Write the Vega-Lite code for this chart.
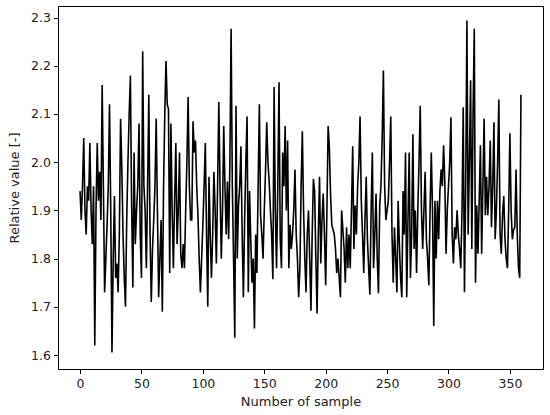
{
  "$schema": "https://vega.github.io/schema/vega-lite/v6.json",
  "autosize": "none",
  "width": 485,
  "height": 363,
  "padding": {"left": 58, "top": 6, "right": 7, "bottom": 46},
  "background": "white",
  "config": {
    "view": {"stroke": "black", "strokeWidth": 1},
    "font": "DejaVu Sans",
    "axis": {"grid": false, "domain": false, "tickColor": "black", "tickSize": 4.5, "labelColor": "#222", "labelFontSize": 12.5, "titleFontSize": 13, "titleFontWeight": "normal", "titleColor": "#222", "labelPadding": 3}
  },
  "data": {"values": [
{"x":0,"y":1.94},{"x":1,"y":1.88},{"x":2,"y":1.95},{"x":3,"y":2.05},{"x":4,"y":1.9},{"x":5,"y":1.85},{"x":6,"y":1.95},{"x":7,"y":1.92},{"x":8,"y":2.04},{"x":9,"y":1.9},
{"x":10,"y":1.83},{"x":11,"y":1.95},{"x":12,"y":1.62},{"x":13,"y":1.9},{"x":14,"y":2.04},{"x":15,"y":1.92},{"x":16,"y":1.98},{"x":17,"y":1.88},{"x":18,"y":2.16},{"x":19,"y":1.95},
{"x":20,"y":1.73},{"x":21,"y":1.8},{"x":22,"y":1.87},{"x":23,"y":1.95},{"x":24,"y":2.12},{"x":25,"y":1.9},{"x":26,"y":1.605},{"x":27,"y":1.8},{"x":28,"y":1.93},{"x":29,"y":1.76},
{"x":30,"y":1.79},{"x":31,"y":1.73},{"x":32,"y":1.85},{"x":33,"y":2.09},{"x":34,"y":1.99},{"x":35,"y":1.85},{"x":36,"y":1.76},{"x":37,"y":1.7},{"x":38,"y":1.88},{"x":39,"y":2.0},
{"x":40,"y":2.1},{"x":41,"y":2.18},{"x":42,"y":1.91},{"x":43,"y":1.74},{"x":44,"y":2.02},{"x":45,"y":1.83},{"x":46,"y":1.9},{"x":47,"y":1.95},{"x":48,"y":2.08},{"x":49,"y":1.85},
{"x":50,"y":1.76},{"x":51,"y":2.23},{"x":52,"y":1.95},{"x":53,"y":1.9},{"x":54,"y":1.78},{"x":55,"y":1.95},{"x":56,"y":2.14},{"x":57,"y":1.85},{"x":58,"y":1.71},{"x":59,"y":1.82},
{"x":60,"y":1.88},{"x":61,"y":1.95},{"x":62,"y":2.09},{"x":63,"y":1.9},{"x":64,"y":1.72},{"x":65,"y":1.8},{"x":66,"y":1.88},{"x":67,"y":1.69},{"x":68,"y":1.95},{"x":69,"y":2.1},
{"x":70,"y":2.21},{"x":71,"y":2.12},{"x":72,"y":2.11},{"x":73,"y":1.77},{"x":74,"y":2.08},{"x":75,"y":1.9},{"x":76,"y":1.78},{"x":77,"y":1.92},{"x":78,"y":2.04},{"x":79,"y":1.83},
{"x":80,"y":1.9},{"x":81,"y":2.02},{"x":82,"y":1.81},{"x":83,"y":1.78},{"x":84,"y":1.83},{"x":85,"y":1.78},{"x":86,"y":1.9},{"x":87,"y":2.0},{"x":88,"y":2.135},{"x":89,"y":1.95},
{"x":90,"y":1.88},{"x":91,"y":1.88},{"x":92,"y":2.085},{"x":93,"y":2.02},{"x":94,"y":2.045},{"x":95,"y":1.95},{"x":96,"y":1.89},{"x":97,"y":1.8},{"x":98,"y":1.73},{"x":99,"y":1.8},
{"x":100,"y":1.87},{"x":101,"y":1.95},{"x":102,"y":2.04},{"x":103,"y":1.85},{"x":104,"y":1.7},{"x":105,"y":1.97},{"x":106,"y":1.85},{"x":107,"y":1.76},{"x":108,"y":1.85},{"x":109,"y":1.98},
{"x":110,"y":1.9},{"x":111,"y":1.79},{"x":112,"y":1.95},{"x":113,"y":2.125},{"x":114,"y":1.95},{"x":115,"y":1.8},{"x":116,"y":1.9},{"x":117,"y":2.075},{"x":118,"y":1.95},{"x":119,"y":1.85},
{"x":120,"y":1.96},{"x":121,"y":1.84},{"x":122,"y":2.0},{"x":123,"y":2.277},{"x":124,"y":1.95},{"x":125,"y":1.8},{"x":126,"y":1.636},{"x":127,"y":2.117},{"x":128,"y":1.8},{"x":129,"y":1.91},
{"x":130,"y":1.95},{"x":131,"y":2.033},{"x":132,"y":1.85},{"x":133,"y":1.72},{"x":134,"y":1.88},{"x":135,"y":2.0},{"x":136,"y":2.095},{"x":137,"y":1.73},{"x":138,"y":1.94},{"x":139,"y":1.84},
{"x":140,"y":1.75},{"x":141,"y":1.8},{"x":142,"y":1.655},{"x":143,"y":1.85},{"x":144,"y":1.77},{"x":145,"y":1.95},{"x":146,"y":2.12},{"x":147,"y":1.89},{"x":148,"y":1.85},{"x":149,"y":1.8},
{"x":150,"y":1.9},{"x":151,"y":1.98},{"x":152,"y":2.083},{"x":153,"y":2.0},{"x":154,"y":1.96},{"x":155,"y":1.9},{"x":156,"y":1.85},{"x":157,"y":1.757},{"x":158,"y":2.156},{"x":159,"y":1.9},
{"x":160,"y":1.78},{"x":161,"y":1.95},{"x":162,"y":2.166},{"x":163,"y":1.84},{"x":164,"y":1.78},{"x":165,"y":2.02},{"x":166,"y":1.95},{"x":167,"y":2.075},{"x":168,"y":1.9},{"x":169,"y":2.045},
{"x":170,"y":1.78},{"x":171,"y":1.87},{"x":172,"y":1.82},{"x":173,"y":1.85},{"x":174,"y":1.9},{"x":175,"y":1.985},{"x":176,"y":1.85},{"x":177,"y":1.8},{"x":178,"y":1.72},{"x":179,"y":1.78},
{"x":180,"y":1.95},{"x":181,"y":2.064},{"x":182,"y":1.9},{"x":183,"y":1.8},{"x":184,"y":1.73},{"x":185,"y":1.85},{"x":186,"y":1.9},{"x":187,"y":1.8},{"x":188,"y":1.692},{"x":189,"y":1.85},
{"x":190,"y":1.965},{"x":191,"y":1.94},{"x":192,"y":1.8},{"x":193,"y":1.686},{"x":194,"y":1.85},{"x":195,"y":1.97},{"x":196,"y":1.79},{"x":197,"y":1.88},{"x":198,"y":1.935},{"x":199,"y":1.85},
{"x":200,"y":1.745},{"x":201,"y":1.9},{"x":202,"y":2.075},{"x":203,"y":2.03},{"x":204,"y":1.93},{"x":205,"y":1.87},{"x":206,"y":1.86},{"x":207,"y":1.85},{"x":208,"y":1.82},{"x":209,"y":1.77},
{"x":210,"y":1.8},{"x":211,"y":1.76},{"x":212,"y":1.72},{"x":213,"y":1.9},{"x":214,"y":1.86},{"x":215,"y":1.82},{"x":216,"y":1.75},{"x":217,"y":1.865},{"x":218,"y":1.78},{"x":219,"y":1.85},
{"x":220,"y":1.78},{"x":221,"y":1.9},{"x":222,"y":2.033},{"x":223,"y":1.82},{"x":224,"y":1.91},{"x":225,"y":1.85},{"x":226,"y":1.95},{"x":227,"y":2.0},{"x":228,"y":2.095},{"x":229,"y":1.92},
{"x":230,"y":1.85},{"x":231,"y":1.77},{"x":232,"y":1.88},{"x":233,"y":1.97},{"x":234,"y":1.84},{"x":235,"y":1.78},{"x":236,"y":1.725},{"x":237,"y":1.9},{"x":238,"y":2.02},{"x":239,"y":1.78},
{"x":240,"y":1.85},{"x":241,"y":1.935},{"x":242,"y":1.8},{"x":243,"y":1.728},{"x":244,"y":1.91},{"x":245,"y":1.95},{"x":246,"y":2.05},{"x":247,"y":2.19},{"x":248,"y":1.95},{"x":249,"y":1.88},
{"x":250,"y":1.9},{"x":251,"y":1.92},{"x":252,"y":2.0},{"x":253,"y":2.095},{"x":254,"y":1.85},{"x":255,"y":1.75},{"x":256,"y":1.865},{"x":257,"y":1.8},{"x":258,"y":1.73},{"x":259,"y":1.92},
{"x":260,"y":1.83},{"x":261,"y":1.76},{"x":262,"y":1.72},{"x":263,"y":1.94},{"x":264,"y":1.85},{"x":265,"y":2.02},{"x":266,"y":1.72},{"x":267,"y":1.88},{"x":268,"y":2.02},{"x":269,"y":1.76},
{"x":270,"y":1.85},{"x":271,"y":2.058},{"x":272,"y":1.82},{"x":273,"y":1.9},{"x":274,"y":1.77},{"x":275,"y":1.9},{"x":276,"y":2.0},{"x":277,"y":2.117},{"x":278,"y":1.9},{"x":279,"y":1.82},
{"x":280,"y":1.9},{"x":281,"y":1.98},{"x":282,"y":1.84},{"x":283,"y":1.8},{"x":284,"y":1.745},{"x":285,"y":1.9},{"x":286,"y":2.02},{"x":287,"y":1.9},{"x":288,"y":1.66},{"x":289,"y":1.92},
{"x":290,"y":1.8},{"x":291,"y":1.92},{"x":292,"y":1.84},{"x":293,"y":1.94},{"x":294,"y":1.985},{"x":295,"y":1.95},{"x":296,"y":2.035},{"x":297,"y":1.96},{"x":298,"y":1.81},{"x":299,"y":1.9},
{"x":300,"y":1.95},{"x":301,"y":2.0},{"x":302,"y":2.093},{"x":303,"y":1.85},{"x":304,"y":1.79},{"x":305,"y":1.865},{"x":306,"y":1.84},{"x":307,"y":1.9},{"x":308,"y":1.85},{"x":309,"y":1.82},
{"x":310,"y":1.78},{"x":311,"y":1.9},{"x":312,"y":2.114},{"x":313,"y":1.73},{"x":314,"y":1.95},{"x":315,"y":2.294},{"x":316,"y":1.85},{"x":317,"y":2.0},{"x":318,"y":2.17},{"x":319,"y":1.82},
{"x":320,"y":2.1},{"x":321,"y":2.277},{"x":322,"y":1.75},{"x":323,"y":1.91},{"x":324,"y":1.81},{"x":325,"y":1.92},{"x":326,"y":2.035},{"x":327,"y":1.81},{"x":328,"y":1.95},{"x":329,"y":2.09},
{"x":330,"y":1.89},{"x":331,"y":1.97},{"x":332,"y":1.89},{"x":333,"y":1.95},{"x":334,"y":2.045},{"x":335,"y":1.865},{"x":336,"y":1.95},{"x":337,"y":2.083},{"x":338,"y":1.84},{"x":339,"y":1.9},
{"x":340,"y":2.0},{"x":341,"y":2.13},{"x":342,"y":1.85},{"x":343,"y":1.81},{"x":344,"y":1.89},{"x":345,"y":1.93},{"x":346,"y":1.84},{"x":347,"y":1.8},{"x":348,"y":1.78},{"x":349,"y":1.9},
{"x":350,"y":2.06},{"x":351,"y":1.9},{"x":352,"y":1.84},{"x":353,"y":1.86},{"x":354,"y":1.865},{"x":355,"y":1.985},{"x":356,"y":1.85},{"x":357,"y":1.78},{"x":358,"y":1.76},{"x":359,"y":2.14}
  ]},
  "mark": {"type": "line", "color": "black", "strokeWidth": 1.6, "clip": true},
  "encoding": {
    "x": {"field": "x", "type": "quantitative", "title": "Number of sample",
      "scale": {"domain": [-17.95, 376.95], "nice": false, "zero": false},
      "axis": {"values": [0, 50, 100, 150, 200, 250, 300, 350], "labelPadding": 4, "titlePadding": 5}},
    "y": {"field": "y", "type": "quantitative", "title": "Relative value [-]",
      "scale": {"domain": [1.571, 2.324], "nice": false, "zero": false},
      "axis": {"values": [1.6, 1.7, 1.8, 1.9, 2.0, 2.1, 2.2, 2.3], "format": ".1f", "titlePadding": 9}}
  }
}
